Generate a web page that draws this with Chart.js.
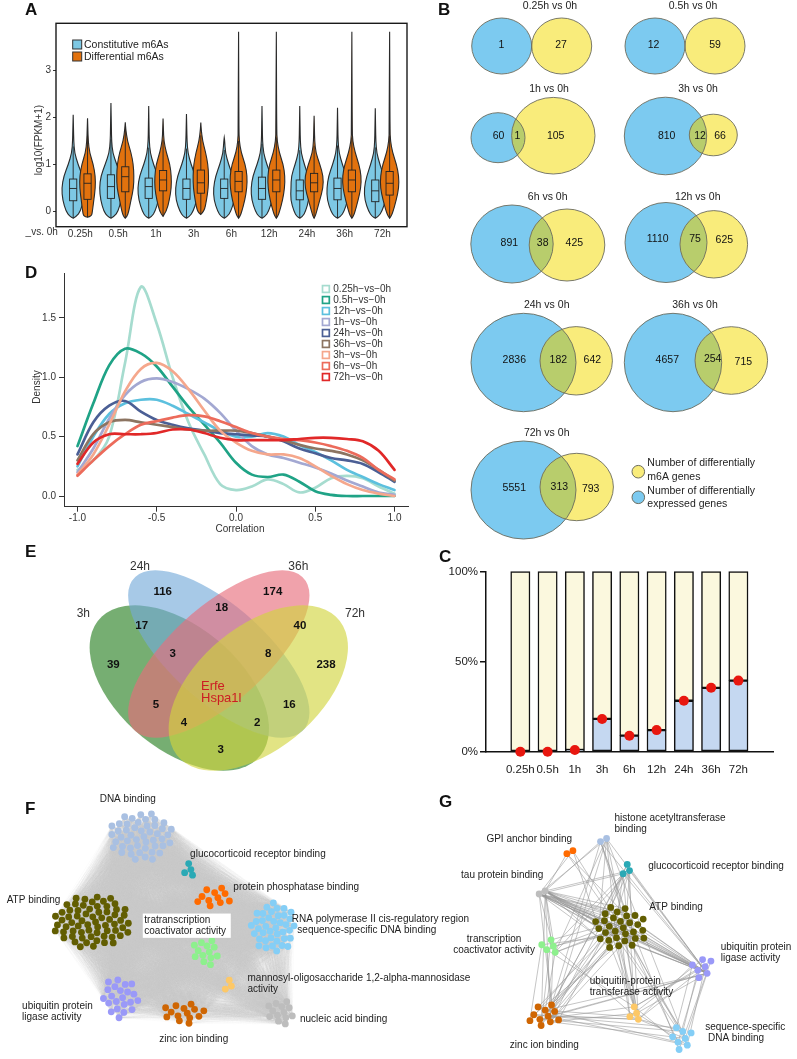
<!DOCTYPE html>
<html>
<head>
<meta charset="utf-8">
<title>m6A multi-panel figure</title>
<script src="https://cdn.jsdelivr.net/npm/chart.js@4.4.1/dist/chart.umd.min.js"></script>
<style>
 html,body{margin:0;padding:0;background:#fff;}
 #page{position:relative;width:797px;height:1059px;overflow:hidden;background:#fff;}
 canvas{position:absolute;display:block;}
 .letter{position:absolute;font-family:"Liberation Sans",Arial,sans-serif;font-weight:bold;font-size:17px;line-height:17px;color:#111;}
</style>
</head>
<body>
<div id="page">
<canvas id="cB" width="397" height="545" style="left:400px;top:0;width:397px;height:545px"></canvas>
<canvas id="cA" width="420" height="250" style="left:0;top:0;width:420px;height:250px"></canvas>
<canvas id="cD" width="420" height="275" style="left:0;top:262px;width:420px;height:275px"></canvas>
<canvas id="cE" width="420" height="253" style="left:0;top:537px;width:420px;height:253px"></canvas>
<canvas id="cC" width="377" height="240" style="left:420px;top:545px;width:377px;height:240px"></canvas>
<canvas id="cFG" width="797" height="274" style="left:0;top:785px;width:797px;height:274px"></canvas>
<div class="letter" style="left:25px;top:1px">A</div>
<div class="letter" style="left:438px;top:1px">B</div>
<div class="letter" style="left:25px;top:264px">D</div>
<div class="letter" style="left:25px;top:543px">E</div>
<div class="letter" style="left:439px;top:548px">C</div>
<div class="letter" style="left:25px;top:800px">F</div>
<div class="letter" style="left:439px;top:793px">G</div>
</div>
<script>
// ======================= DATA =======================
const timepoints = ['0.25h','0.5h','1h','3h','6h','12h','24h','36h','72h'];

// Panel A: log10(FPKM+1) summary [min, q1, median, q3, max]
const constitutiveStats = [
 [-0.14,0.23,0.49,0.69,2.05],[-0.14,0.28,0.53,0.78,2.30],[-0.14,0.28,0.53,0.71,2.24],
 [-0.14,0.26,0.49,0.69,2.07],[-0.14,0.28,0.49,0.69,1.57],[-0.14,0.26,0.49,0.73,2.24],
 [-0.14,0.25,0.44,0.67,2.24],[-0.14,0.25,0.49,0.71,2.20],[-0.14,0.21,0.44,0.67,2.19]];
const differentialStats = [
 [-0.12,0.26,0.60,0.80,1.98],[-0.14,0.42,0.74,0.95,1.89],[-0.10,0.44,0.67,0.87,1.97],
 [-0.06,0.39,0.61,0.88,1.89],[-0.14,0.42,0.64,0.85,3.81],[-0.14,0.42,0.67,0.88,3.81],
 [-0.14,0.42,0.61,0.81,2.03],[-0.14,0.42,0.67,0.88,3.81],[-0.14,0.35,0.60,0.85,3.81]];
// relative kernel density at these log10(FPKM+1) levels
const densityLevels = [-0.1,0,0.25,0.5,0.75,1.0,1.25,1.5,1.75];
const constitutiveDensity = [
 [0.30,0.62,0.92,1.00,0.82,0.42,0.12,0.05,0.03],
 [0.30,0.62,0.90,1.00,0.88,0.50,0.15,0.06,0.04],
 [0.28,0.55,0.87,0.96,0.80,0.42,0.13,0.05,0.03],
 [0.28,0.57,0.92,0.96,0.78,0.40,0.12,0.05,0.03],
 [0.28,0.57,0.90,0.94,0.75,0.38,0.10,0.04,0.00],
 [0.28,0.57,0.90,0.96,0.80,0.42,0.13,0.05,0.03],
 [0.26,0.50,0.80,0.76,0.74,0.40,0.12,0.05,0.03],
 [0.28,0.57,0.90,0.93,0.78,0.42,0.13,0.05,0.03],
 [0.28,0.57,0.92,0.96,0.75,0.40,0.12,0.05,0.03]];
const differentialDensity = [
 [0.35,0.42,0.55,0.68,0.68,0.50,0.18,0.06,0.03],
 [0.15,0.30,0.50,0.72,0.75,0.70,0.50,0.18,0.04],
 [0.12,0.30,0.55,0.72,0.72,0.60,0.28,0.07,0.03],
 [0.00,0.30,0.50,0.65,0.68,0.62,0.42,0.15,0.03],
 [0.12,0.28,0.55,0.72,0.75,0.58,0.22,0.06,0.03],
 [0.12,0.28,0.55,0.72,0.75,0.60,0.25,0.07,0.03],
 [0.10,0.22,0.50,0.78,0.80,0.50,0.15,0.05,0.03],
 [0.12,0.28,0.55,0.78,0.82,0.62,0.28,0.07,0.03],
 [0.12,0.30,0.58,0.80,0.80,0.60,0.25,0.07,0.03]];

// Panel B: gene counts per comparison
const degOnly = [1,12,60,810,891,1110,2836,4657,5551];
const bothDegM6a = [0,0,1,12,38,75,182,254,313];
const m6aOnly = [27,59,105,66,425,625,642,715,793];

// Panel C: share (%) of differentially m6A genes that are also DEGs
const overlapPercent = [0,0,0.95,18.2,8.9,12.0,28.3,35.5,39.5];
const remainderPercent = [100,100,99.05,81.8,91.1,88.0,71.7,64.5,60.5];

// Panel D: density of correlation
const seriesNames = ['0.25h-vs-0h','0.5h-vs-0h','12h-vs-0h','1h-vs-0h','24h-vs-0h','36h-vs-0h','3h-vs-0h','6h-vs-0h','72h-vs-0h'];
const correlationGrid = [-1,-0.9,-0.8,-0.7,-0.6,-0.5,-0.4,-0.3,-0.2,-0.1,0,0.1,0.2,0.3,0.4,0.5,0.6,0.7,0.8,0.9,1];
const dens_025h = [0.22,0.30,0.50,1.12,1.76,1.45,1.00,0.62,0.35,0.10,0.05,0.08,0.14,0.10,0.03,0.07,0.15,0.17,0.15,0.08,0.02];
const dens_05h  = [0.42,0.78,1.10,1.24,1.20,1.09,0.92,0.75,0.60,0.45,0.28,0.18,0.16,0.18,0.12,0.04,0.01,0.00,0.00,0.00,0.00];
const dens_12h  = [0.25,0.50,0.69,0.78,0.81,0.81,0.76,0.69,0.62,0.55,0.50,0.50,0.53,0.50,0.43,0.37,0.30,0.22,0.16,0.10,0.05];
const dens_1h   = [0.20,0.40,0.65,0.85,0.96,0.99,0.96,0.90,0.82,0.70,0.55,0.42,0.35,0.32,0.28,0.24,0.19,0.13,0.08,0.03,0.01];
const dens_24h  = [0.35,0.62,0.76,0.80,0.71,0.64,0.60,0.57,0.55,0.53,0.52,0.51,0.50,0.46,0.40,0.36,0.32,0.30,0.27,0.20,0.12];
const dens_36h  = [0.30,0.52,0.62,0.64,0.62,0.60,0.58,0.56,0.55,0.55,0.55,0.53,0.50,0.47,0.43,0.40,0.38,0.35,0.30,0.22,0.13];
const dens_3h   = [0.18,0.35,0.60,0.88,1.07,1.12,1.05,0.90,0.72,0.55,0.45,0.38,0.35,0.35,0.32,0.25,0.17,0.10,0.05,0.02,0.00];
const dens_6h   = [0.17,0.30,0.42,0.52,0.60,0.63,0.66,0.68,0.67,0.63,0.58,0.53,0.50,0.48,0.47,0.45,0.42,0.38,0.32,0.22,0.14];
const dens_72h  = [0.27,0.45,0.52,0.52,0.52,0.53,0.56,0.56,0.53,0.49,0.47,0.47,0.47,0.47,0.48,0.49,0.49,0.48,0.46,0.38,0.22];
const densitySeries = [dens_025h,dens_05h,dens_12h,dens_1h,dens_24h,dens_36h,dens_3h,dens_6h,dens_72h];

// Panel E: four-way Venn counts
const quadSets = ['3h','24h','36h','72h'];
const quadCounts = [39,116,174,238,17,18,40,3,3,8,5,16,4,2];
const quadCoreGenes = ['Erfe','Hspa1l'];

// Panel F / G: GO terms (nodes = genes per term) and term-term links
const termsF = ['DNA binding','glucocorticoid receptor binding','protein phosphatase binding','ATP binding',
 'tratranscription coactivator activity','RNA polymerase II cis-regulatory region sequence-specific DNA binding',
 'mannosyl-oligosaccharide 1,2-alpha-mannosidase activity','ubiquitin protein ligase activity','zinc ion binding','nucleic acid binding'];
const genesF = [48,4,11,66,13,40,3,22,14,13];
const termsG = ['histone acetyltransferase binding','GPI anchor binding','glucocorticoid receptor binding','tau protein binding',
 'ATP binding','transcription coactivator activity','ubiquitin protein ligase activity','ubiquitin-protein transferase activity',
 'zinc ion binding','sequence-specific DNA binding'];
const genesG = [2,2,3,2,30,5,7,4,11,8];
const edgesG = [
 [3,4,22],[3,5,3],[3,8,3],[3,0,2],[3,1,2],[3,2,2],[3,6,2],
 [0,4,6],[0,6,2],[0,5,1],[0,8,2],[0,9,1],[1,4,4],
 [2,4,8],[2,6,3],[2,8,3],[2,5,2],
 [4,6,14],[4,8,12],[4,7,10],[4,9,6],[4,5,6],
 [5,8,5],[5,7,2],[8,7,5],[8,9,5],[8,6,3],[6,7,6],[6,9,6],[7,9,4]];

// ======================= STYLE / LAYOUT =======================
const FONT = '"Liberation Sans", Arial, Helvetica, sans-serif';
Chart.defaults.font.family = FONT;
Chart.defaults.color = '#333';
const seriesColors = ['#a6dccf','#1fa386','#5cc0de','#a3a8d2','#4b5f95','#8c7461','#f5a78c','#ec6b5b','#e12828'];

function drawText(ctx, s, x, y, o) {
  o = o || {};
  ctx.save();
  ctx.font = (o.weight || 'normal') + ' ' + (o.size || 10) + 'px ' + FONT;
  ctx.fillStyle = o.color || '#222';
  ctx.textAlign = o.align || 'center';
  ctx.textBaseline = 'middle';
  if (o.rotate) { ctx.translate(x, y); ctx.rotate(o.rotate); ctx.fillText(s, 0, 0); }
  else ctx.fillText(s, x, y);
  ctx.restore();
}
const noInteract = {responsive:false, animation:false, events:[]};
const hiddenPlugins = {legend:{display:false}, tooltip:{enabled:false}};
function pageScales(x0, x1, y0, y1) {
  return {x:{type:'linear', min:x0, max:x1, display:false}, y:{type:'linear', min:y0, max:y1, reverse:true, display:false}};
}

// ======================= PANEL A: violins =======================
const violinStyle = {halfWidth:11.5, boxHalf:3.6, offset:0.19, colors:['#7dc8e4','#e2720e']};
function smoothSide(ctx, pts) {
  for (let i = 1; i < pts.length - 1; i++) {
    const mx = (pts[i][0] + pts[i+1][0]) / 2, my = (pts[i][1] + pts[i+1][1]) / 2;
    ctx.quadraticCurveTo(pts[i][0], pts[i][1], mx, my);
  }
  ctx.lineTo(pts[pts.length-1][0], pts[pts.length-1][1]);
}
const violinPlugin = {
  id:'violins',
  beforeDatasetsDraw(chart) {
    const {ctx, scales:{x, y}} = chart;
    const groups = [
      {stats:constitutiveStats, dens:constitutiveDensity, color:violinStyle.colors[0], off:-violinStyle.offset},
      {stats:differentialStats, dens:differentialDensity, color:violinStyle.colors[1], off:violinStyle.offset}];
    groups.forEach(g => {
      timepoints.forEach((t, i) => {
        const st = g.stats[i], d = g.dens[i];
        const cx = x.getPixelForValue(i + 1 + g.off);
        const prof = [[st[0], 0]];
        densityLevels.forEach((lv, j) => { if (lv > st[0] && lv < st[4]) prof.push([lv, d[j]]); });
        prof.push([st[4], 0]);
        const hw = violinStyle.halfWidth;
        const right = prof.map(p => [cx + p[1] * hw, y.getPixelForValue(p[0])]);
        const left = prof.slice().reverse().map(p => [cx - p[1] * hw, y.getPixelForValue(p[0])]);
        ctx.save();
        ctx.beginPath();
        ctx.moveTo(right[0][0], right[0][1]);
        smoothSide(ctx, right);
        smoothSide(ctx, left);
        ctx.closePath();
        ctx.fillStyle = g.color; ctx.fill();
        ctx.lineWidth = 1.1; ctx.strokeStyle = '#2a2a2a'; ctx.stroke();
        const iqr = st[3] - st[1];
        const wHi = Math.min(st[4], st[3] + 1.5 * iqr), wLo = Math.max(st[0], st[1] - 1.5 * iqr);
        const bh = violinStyle.boxHalf;
        ctx.lineWidth = 0.9; ctx.strokeStyle = '#222';
        ctx.beginPath();
        ctx.moveTo(cx, y.getPixelForValue(st[3])); ctx.lineTo(cx, y.getPixelForValue(wHi));
        ctx.moveTo(cx, y.getPixelForValue(st[1])); ctx.lineTo(cx, y.getPixelForValue(wLo));
        ctx.stroke();
        const yq3 = y.getPixelForValue(st[3]), yq1 = y.getPixelForValue(st[1]);
        ctx.strokeRect(cx - bh, yq3, 2 * bh, yq1 - yq3);
        ctx.beginPath();
        ctx.moveTo(cx - bh, y.getPixelForValue(st[2])); ctx.lineTo(cx + bh, y.getPixelForValue(st[2]));
        ctx.stroke();
        ctx.restore();
      });
    });
  },
  afterDraw(chart) {
    const {ctx, chartArea:a} = chart;
    ctx.save();
    ctx.lineWidth = 1.4; ctx.strokeStyle = '#1a1a1a';
    ctx.strokeRect(a.left, a.top, a.right - a.left, a.bottom - a.top);
    const keys = [['Constitutive m6As', violinStyle.colors[0]], ['Differential m6As', violinStyle.colors[1]]];
    keys.forEach((k, i) => {
      const ky = 40 + i * 12;
      ctx.fillStyle = k[1]; ctx.fillRect(72.7, ky, 9, 9);
      ctx.lineWidth = 1; ctx.strokeStyle = '#333'; ctx.strokeRect(72.7, ky, 9, 9);
      drawText(ctx, k[0], 84, ky + 4.8, {size:10.5, align:'left', color:'#222'});
    });
    drawText(ctx, '_vs. 0h', 41.7, 232.5, {size:10, color:'#333'});
    drawText(ctx, 'log10(FPKM+1)', 39, 140, {size:10, color:'#333', rotate:-Math.PI/2});
    ctx.restore();
  }
};
new Chart(document.getElementById('cA'), {
  type:'scatter',
  data:{datasets:[]},
  options:Object.assign({}, noInteract, {
    layout:{padding:{top:23.3, right:13, left:0, bottom:0}},
    plugins:hiddenPlugins,
    scales:{
      x:{type:'linear', min:0.355, max:9.65, afterFit(s){ s.height = 23.3; },
         grid:{display:false, drawTicks:false}, border:{display:false},
         ticks:{stepSize:1, includeBounds:false, autoSkip:false, maxRotation:0, minRotation:0, padding:2,
                font:{size:10}, color:'#333', callback:v => timepoints[Math.round(v) - 1] || ''}},
      y:{type:'linear', min:-0.32, max:3.99, afterFit(s){ s.width = 56; },
         grid:{drawOnChartArea:false, tickLength:3, color:'#333'}, border:{display:false},
         ticks:{stepSize:1, includeBounds:false, padding:2, font:{size:10}, color:'#333'}}
    }
  }),
  plugins:[violinPlugin]
});

// ======================= PANEL B: pairwise Venns =======================
const vennColors = {blue:'#7ccaf0', yellow:'#f9ec7b', overlap:'#b8cd6c', edge:'#6c6c5e'};
const vennLayout = [
 {title:[550,6], blue:[501.7,46,30,28], yellow:[561.7,46,30,28], lab:[[501.5,45.5],null,[561,45.5]]},
 {title:[693,6], blue:[655,46,30,28], yellow:[715,46,30,28], lab:[[653.5,45.5],null,[715,45.5]]},
 {title:[549,89.5], blue:[498,137.7,27,25], yellow:[553.3,135.7,41.7,38.3], lab:[[498.5,136],[517.3,136],[555.7,136]]},
 {title:[698,89.5], blue:[665.5,136,41.2,38.8], yellow:[713.3,135,24,20.8], lab:[[666.7,136],[700,136],[720,136]]},
 {title:[547.7,196.7], blue:[512,244,41.2,39], yellow:[567,245,37.8,36], lab:[[509.3,242.7],[542.7,242.7],[574.3,242.7]]},
 {title:[697.7,196.7], blue:[666,242.5,41,40], yellow:[713.8,244.3,33.8,33.7], lab:[[657.7,239.3],[695,239],[724.3,240]]},
 {title:[546.7,305], blue:[523.5,362.5,52.5,49.2], yellow:[576.2,360.8,36.2,34.2], lab:[[514.3,360],[558.3,360],[592.3,360]]},
 {title:[695,305], blue:[673,362.5,48.7,49.2], yellow:[731.3,360.5,36.3,33.8], lab:[[667.3,360],[712.7,359],[743.3,362]]},
 {title:[546.7,432.7], blue:[523.5,490,52.5,49], yellow:[576.7,487,36.7,33.7], lab:[[514.3,488.3],[559.3,487],[590.7,489]]}];
const vennLegend = {x:638.3, yYellow:471.7, yBlue:497.3, r:6.3, textX:647.3,
  lines:[['Number of differentially',462.7],['m6A genes',476.7],['Number of differentially',490.7],['expressed genes',504]]};
const vennPlugin = {
  id:'vennPairs',
  afterDraw(chart) {
    const {ctx, scales:{x, y}} = chart;
    const px = v => x.getPixelForValue(v), py = v => y.getPixelForValue(v);
    const ell = e => { ctx.beginPath(); ctx.ellipse(px(e[0]), py(e[1]), Math.abs(px(e[0] + e[2]) - px(e[0])), Math.abs(py(e[1] + e[3]) - py(e[1])), 0, 0, Math.PI * 2); };
    ctx.save();
    vennLayout.forEach((L, i) => {
      ell(L.blue); ctx.fillStyle = vennColors.blue; ctx.fill();
      ell(L.yellow); ctx.fillStyle = vennColors.yellow; ctx.fill();
      if (bothDegM6a[i] > 0) {
        ctx.save(); ell(L.blue); ctx.clip(); ell(L.yellow); ctx.fillStyle = vennColors.overlap; ctx.fill(); ctx.restore();
      }
      ctx.lineWidth = 0.9; ctx.strokeStyle = vennColors.edge;
      ell(L.blue); ctx.stroke(); ell(L.yellow); ctx.stroke();
      drawText(ctx, timepoints[i] + ' vs 0h', px(L.title[0]), py(L.title[1]), {size:10.5, color:'#222'});
      const vals = [degOnly[i], bothDegM6a[i], m6aOnly[i]];
      L.lab.forEach((p, k) => { if (p) drawText(ctx, String(vals[k]), px(p[0]), py(p[1]), {size:10.5, color:'#111'}); });
    });
    const lg = vennLegend;
    [[lg.yYellow, vennColors.yellow], [lg.yBlue, vennColors.blue]].forEach(c => {
      ctx.beginPath(); ctx.arc(px(lg.x), py(c[0]), lg.r, 0, Math.PI * 2);
      ctx.fillStyle = c[1]; ctx.fill(); ctx.lineWidth = 1; ctx.strokeStyle = vennColors.edge; ctx.stroke();
    });
    lg.lines.forEach(l => drawText(ctx, l[0], px(lg.textX), py(l[1]), {size:10.5, align:'left', color:'#222'}));
    ctx.restore();
  }
};
new Chart(document.getElementById('cB'), {
  type:'scatter', data:{datasets:[]},
  options:Object.assign({}, noInteract, {plugins:hiddenPlugins, layout:{padding:0}, scales:pageScales(400, 797, 0, 545)}),
  plugins:[vennPlugin]
});

// ======================= PANEL D: density lines =======================
const densityLegend = {boxX:321.7, textX:333.3, y0:289, step:11};
const densityPlugin = {
  id:'densityDecor',
  afterDraw(chart) {
    const {ctx} = chart;
    const top = 262;
    drawText(ctx, 'Density', 37, 387 - top, {size:10, color:'#333', rotate:-Math.PI/2});
    drawText(ctx, 'Correlation', 240, 529.5 - top, {size:10, color:'#333'});
    seriesNames.forEach((n, i) => {
      const cy = densityLegend.y0 + i * densityLegend.step - top;
      ctx.save();
      ctx.fillStyle = '#fff'; ctx.fillRect(densityLegend.boxX, cy - 4.2, 8.4, 8.4);
      ctx.lineWidth = 1.7; ctx.strokeStyle = seriesColors[i];
      ctx.strokeRect(densityLegend.boxX + 0.8, cy - 3.4, 6.8, 6.8);
      ctx.restore();
      drawText(ctx, n.replace(/-/g, '\u2212'), densityLegend.textX, cy, {size:10, align:'left', color:'#333'});
    });
  }
};
new Chart(document.getElementById('cD'), {
  type:'line',
  data:{datasets: seriesNames.map((n, i) => ({
    label:n,
    data: correlationGrid.map((c, j) => ({x:c, y:densitySeries[i][j]})),
    borderColor: seriesColors[i], borderWidth:2.7, pointRadius:0, fill:false,
    tension:0.35, borderCapStyle:'round', borderJoinStyle:'round',
    order: seriesNames.length - 1 - i
  }))},
  options:Object.assign({}, noInteract, {
    plugins:hiddenPlugins,
    layout:{padding:{top:11, right:12, left:0, bottom:0}},
    scales:{
      x:{type:'linear', min:-1.085, max:1.085, afterFit(s){ s.height = 30.3; },
         grid:{drawOnChartArea:false, tickLength:5, color:'#333'}, border:{display:true, color:'#333', width:1},
         ticks:{stepSize:0.5, includeBounds:false, autoSkip:false, maxRotation:0, padding:1, font:{size:10}, color:'#333',
                callback:v => Number(v).toFixed(1)}},
      y:{type:'linear', min:-0.09, max:1.877, afterFit(s){ s.width = 64; },
         grid:{drawOnChartArea:false, tickLength:5, color:'#333'}, border:{display:true, color:'#333', width:1},
         ticks:{stepSize:0.5, includeBounds:false, padding:3, font:{size:10}, color:'#333',
                callback:v => Number(v).toFixed(1)}}
    }
  }),
  plugins:[densityPlugin]
});

// ======================= PANEL E: four-way Venn =======================
const quadLayout = {
  sx:1.084,
  ellipses:[ // 3h, 24h, 36h, 72h : [cx, cy, a, b, rotationDeg, fill]
    [179.3,688,101,59,45,'rgba(40,128,34,0.64)'],
    [218.8,654,109,46,45,'rgba(117,170,217,0.64)'],
    [218.8,654,109,46,-45,'rgba(232,109,124,0.64)'],
    [258.3,688,101,59,-45,'rgba(209,213,63,0.64)']],
  setLabels:[[83.3,614],[140,566.7],[298.3,566.7],[355,614]],
  countPos:[[113.3,665],[162.7,591.7],[272.7,591.7],[326,665],[141.7,626],[221.7,608.3],[300,626],
            [172.7,654],[220.7,750],[268.3,654],[156,705],[289.3,705],[184,722.7],[257.3,722.7]],
  corePos:[[201,686.5],[201,698]]
};
const quadPlugin = {
  id:'quadVenn',
  afterDraw(chart) {
    const {ctx, scales:{x, y}} = chart;
    const px = v => x.getPixelForValue(v), py = v => y.getPixelForValue(v);
    const unit = Math.abs(py(1) - py(0));
    ctx.save();
    quadLayout.ellipses.forEach(e => {
      ctx.save();
      ctx.translate(px(e[0]), py(e[1]));
      ctx.scale(quadLayout.sx, 1);
      ctx.rotate(e[4] * Math.PI / 180);
      ctx.beginPath(); ctx.ellipse(0, 0, e[2] * unit, e[3] * unit, 0, 0, Math.PI * 2);
      ctx.fillStyle = e[5]; ctx.fill();
      ctx.restore();
    });
    quadSets.forEach((s, i) => drawText(ctx, s, px(quadLayout.setLabels[i][0]), py(quadLayout.setLabels[i][1]), {size:12, color:'#333'}));
    quadCounts.forEach((c, i) => drawText(ctx, String(c), px(quadLayout.countPos[i][0]), py(quadLayout.countPos[i][1]), {size:11.5, weight:'bold', color:'#111'}));
    quadCoreGenes.forEach((g, i) => drawText(ctx, g, px(quadLayout.corePos[i][0]), py(quadLayout.corePos[i][1]), {size:13, align:'left', color:'#cc1d24'}));
    ctx.restore();
  }
};
new Chart(document.getElementById('cE'), {
  type:'scatter', data:{datasets:[]},
  options:Object.assign({}, noInteract, {plugins:hiddenPlugins, layout:{padding:0}, scales:pageScales(0, 420, 537, 790)}),
  plugins:[quadPlugin]
});

// ======================= PANEL C: stacked share bars =======================
new Chart(document.getElementById('cC'), {
  type:'bar',
  data:{datasets:[
    {type:'line', label:'overlap share', data:overlapPercent.map((v, i) => ({x:i, y:v})), showLine:false,
     pointRadius:5, pointBackgroundColor:'#e8170f', pointBorderWidth:0, stack:'dots', order:-1, clip:false},
    {label:'DEG & m6A', data:overlapPercent.map((v, i) => ({x:i, y:v})), backgroundColor:'#c5d8f1',
     borderColor:'#111', borderWidth:1.5, borderSkipped:false, barThickness:19.3, stack:'bars', clip:false},
    {label:'m6A only', data:remainderPercent.map((v, i) => ({x:i, y:v})), backgroundColor:'#fbf8de',
     borderColor:'#111', borderWidth:1.5, borderSkipped:false, barThickness:19.3, stack:'bars', clip:false}
  ]},
  options:Object.assign({}, noInteract, {
    plugins:hiddenPlugins,
    layout:{padding:{top:26.7, right:24, left:0, bottom:0}},
    scales:{
      x:{type:'linear', min:-0.675, max:8.685, afterFit(s){ s.height = 33.3; },
         grid:{display:false, drawTicks:false}, border:{display:true, color:'#111', width:1.5},
         ticks:{stepSize:1, includeBounds:false, autoSkip:false, maxRotation:0, minRotation:0, padding:11,
                font:{size:11.5}, color:'#222', callback:v => timepoints[Math.round(v)] || ''}},
      y:{type:'linear', min:0, max:100, stacked:true, afterFit(s){ s.width = 66; },
         grid:{drawOnChartArea:false, tickLength:6, color:'#111', lineWidth:1.5}, border:{display:true, color:'#111', width:1.5},
         ticks:{stepSize:50, padding:2, font:{size:11.5}, color:'#222', callback:v => v + '%'}}
    }
  })
});

// ======================= PANELS F & G: GO networks =======================
const clusterLayoutF = [ // [cx, cy, spacing, aspect, colour]
  [138,834,4.2,1.12,'#a9c0e2'],[186,868,3.9,1,'#2aa9b5'],[212,897,4.4,1.3,'#ff6b00'],[89,922,4.1,1.2,'#625e02'],
  [204.5,953,4.0,1,'#8df08d'],[272,928,3.9,0.92,'#84cef6'],[227,988,3.8,1,'#fdc867'],[117,1000,4.3,0.92,'#9a99f8'],
  [181,1016,4.3,1.35,'#cf6603'],[280,1015,3.9,1.05,'#bdbdbd']];
const clusterLayoutG = [
  [606,836,3.8,1,'#a9c0e2'],[572,848.5,3.8,1,'#ff6b00'],[629,869,4.0,1,'#2aa9b5'],[544,890,3.8,1,'#bdbdbd'],
  [622,928,4.6,1.1,'#625e02'],[552,947,4.2,1,'#8df08d'],[705,968,4.6,1,'#9a99f8'],[636,1016,4.2,1,'#fdc867'],
  [546,1019,4.5,1.15,'#cf6603'],[685,1042,4.6,1,'#84cef6']];
const labelsF = [ // [lines, x, y of first line, align, whiteBackground]
  [['DNA binding'],125,796,'center'],
  [['glucocorticoid receptor binding'],188,852.5,'left'],
  [['protein phosphatase binding'],231.7,886.7,'left'],
  [['ATP binding'],2.7,900,'left'],
  [['tratranscription','coactivator activity'],141.7,920,'left',true],
  [['RNA polymerase II cis-regulatory region','  sequence-specific DNA binding'],290.7,919.3,'left'],
  [['mannosyl-oligosaccharide 1,2-alpha-mannosidase','activity'],246,980,'left'],
  [['ubiquitin protein','ligase activity'],18.3,1009,'left'],
  [['zinc ion binding'],191.7,1043,'center'],
  [['nucleic acid binding'],299,1021.7,'left']];
const labelsG = [
  [['histone acetyltransferase','binding'],616.7,815,'left'],
  [['GPI anchor binding'],487.3,836.7,'left'],
  [['glucocorticoid receptor binding'],650.7,864.3,'left'],
  [['tau protein binding'],461.7,874,'left'],
  [['ATP binding'],651.7,907.3,'left'],
  [['transcription','coactivator activity'],495,940,'center'],
  [['ubiquitin protein','ligase activity'],724,947.7,'left'],
  [['ubiquitin-protein','transferase activity'],591.7,982.7,'left'],
  [['zinc ion binding'],511,1049,'left'],
  [['sequence-specific',' DNA binding'],708.3,1030.7,'left']];
// sunflower packing of a term's genes around its layout position (layout only, not data)
function packCluster(L, n) {
  const pts = [];
  for (let i = 0; i < n; i++) {
    const r = L[2] * Math.sqrt(i + 0.5), t = i * 2.39996323;
    pts.push({x:L[0] + r * Math.cos(t) * L[3], y:L[1] + r * Math.sin(t) / L[3]});
  }
  return pts;
}
const netDatasets = [];
termsF.forEach((t, i) => netDatasets.push({label:'F: ' + t, panel:'F', term:i, data:packCluster(clusterLayoutF[i], genesF[i]),
  pointRadius:3.4, pointBackgroundColor:clusterLayoutF[i][4], pointBorderWidth:0}));
termsG.forEach((t, i) => netDatasets.push({label:'G: ' + t, panel:'G', term:i, data:packCluster(clusterLayoutG[i], genesG[i]),
  pointRadius:3.4, pointBackgroundColor:clusterLayoutG[i][4], pointBorderWidth:0}));
const networkPlugin = {
  id:'networks',
  beforeDatasetsDraw(chart) {
    const {ctx} = chart;
    const metas = chart.data.datasets.map((d, i) => chart.getDatasetMeta(i).data);
    const fIdx = [], gIdx = [];
    chart.data.datasets.forEach((d, i) => (d.panel === 'F' ? fIdx : gIdx).push(i));
    ctx.save();
    ctx.lineWidth = 0.6; ctx.strokeStyle = 'rgba(196,196,196,0.1)';
    for (let a = 0; a < fIdx.length; a++) for (let b = a + 1; b < fIdx.length; b++) {
      const A = metas[fIdx[a]], B = metas[fIdx[b]];
      for (const p of A) for (const q of B) { ctx.beginPath(); ctx.moveTo(p.x, p.y); ctx.lineTo(q.x, q.y); ctx.stroke(); }
    }
    ctx.lineWidth = 0.7; ctx.strokeStyle = 'rgba(150,150,150,0.8)';
    edgesG.forEach(e => {
      const A = metas[gIdx[e[0]]], B = metas[gIdx[e[1]]];
      for (let k = 0; k < e[2]; k++) {
        const p = A[k % A.length], q = B[(k * 7 + 3) % B.length];
        ctx.beginPath(); ctx.moveTo(p.x, p.y); ctx.lineTo(q.x, q.y); ctx.stroke();
      }
    });
    ctx.restore();
  },
  afterDatasetsDraw(chart) {
    const {ctx, scales:{x, y}} = chart;
    const put = lab => {
      const lines = lab[0], lx = x.getPixelForValue(lab[1]);
      if (lab[4]) {
        ctx.save(); ctx.fillStyle = '#fff';
        ctx.fillRect(lx - 1.5, y.getPixelForValue(lab[2]) - 6.5, 88, lines.length * 11.4 + 1.5); ctx.restore();
      }
      lines.forEach((s, k) => drawText(ctx, s, lx, y.getPixelForValue(lab[2] + k * 11.4), {size:10, align:lab[3], color:'#222'}));
    };
    labelsF.forEach(put); labelsG.forEach(put);
  }
};
new Chart(document.getElementById('cFG'), {
  type:'scatter', data:{datasets:netDatasets},
  options:Object.assign({}, noInteract, {plugins:hiddenPlugins, layout:{padding:0}, scales:pageScales(0, 797, 785, 1059)}),
  plugins:[networkPlugin]
});
</script>
</body>
</html>
